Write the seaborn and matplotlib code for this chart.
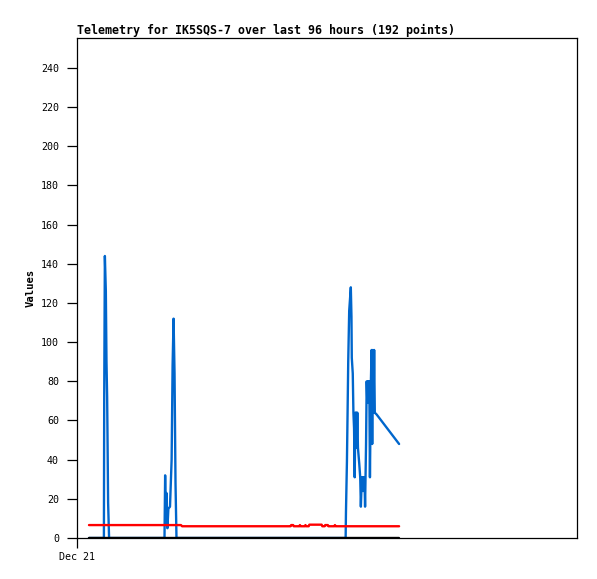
import matplotlib
matplotlib.use("Agg")
import matplotlib.pyplot as plt
import seaborn as sns
import pandas as pd

# ---- data (time in hours since start of window) ----
blue_t = [0, 4.6, 4.7, 4.9, 5.2, 5.4, 5.6, 5.7, 5.9, 6.2,
          23.3, 23.5, 23.7, 23.9, 24.2, 24.5, 25.0, 25.5, 25.8, 26.1, 26.4, 26.7, 27.0,
          79.2, 79.3, 79.6, 79.8, 80.0, 80.3, 80.8, 81.0, 81.1, 81.4, 81.6, 81.8, 82.0,
          82.2, 82.3, 82.5, 82.6, 82.8, 83.0, 83.4, 83.7, 83.9, 84.2, 84.3, 84.6, 84.8,
          85.0, 85.2, 85.5, 85.7, 85.9, 86.1, 86.3, 86.5, 86.7, 87.0, 87.2, 87.4, 87.6,
          87.8, 88.0, 88.2, 88.8, 95.7]
blue_v = [0, 0, 72, 144, 126, 90, 72, 55, 18, 0,
          0, 32, 8, 23, 5, 15, 16, 40, 88, 112, 84, 28, 0,
          0, 13, 39, 64, 90, 116, 128, 113, 92, 84, 64, 56, 31,
          64, 48, 64, 46, 64, 46, 38, 31, 16, 31, 24, 31, 24,
          31, 16, 48, 80, 69, 80, 69, 80, 31, 80, 96, 48, 96,
          64, 96, 64, 63, 48]

red_t = [0, 28.4, 28.7, 62.2, 62.4, 63.0, 63.2, 64.9, 65.1, 65.3, 66.6, 66.8, 67.0,
         67.8, 68.0, 71.8, 72.0, 72.7, 72.9, 73.7, 73.9, 75.7, 75.9, 76.1, 95.7]
red_v = [6.6, 6.6, 6.0, 6.0, 6.6, 6.6, 6.0, 6.0, 6.6, 6.0, 6.0, 6.6, 6.0,
         6.0, 6.8, 6.8, 6.0, 6.0, 6.6, 6.6, 6.0, 6.0, 6.6, 6.0, 6.0]

black_t = [0, 95.7]
black_v = [0, 0]

y_ticks = list(range(0, 241, 20))
x_tick_pos = [-3.7]
x_tick_labels = ["Dec 21"]
title = "Telemetry for IK5SQS-7 over last 96 hours (192 points)"

df = pd.concat([
    pd.DataFrame({"t": blue_t, "v": blue_v, "s": "blue"}),
    pd.DataFrame({"t": red_t, "v": red_v, "s": "red"}),
    pd.DataFrame({"t": black_t, "v": black_v, "s": "black"}),
])

sns.set_style("ticks")
plt.rcParams["font.family"] = ["DejaVu Sans Mono"]
plt.rcParams["text.color"] = "black"
plt.rcParams["axes.labelcolor"] = "black"
plt.rcParams["xtick.color"] = "black"
plt.rcParams["ytick.color"] = "black"

fig = plt.figure(figsize=(5.97, 5.79), dpi=100)
ax = fig.add_axes([77 / 597, 1 - 538 / 579, 500 / 597, 500 / 579])

sns.lineplot(data=df, x="t", y="v", hue="s", hue_order=["blue", "red", "black"],
             palette={"blue": "#0066cc", "red": "#ff0000", "black": "#000000"},
             estimator=None, sort=False, linewidth=1.7, legend=False, ax=ax)

ax.set_xlim(-3.7, 150.6)
ax.set_ylim(0, 255.3)
ax.set_yticks(y_ticks)
ax.set_yticklabels([str(v) for v in y_ticks], fontsize=7.2, color="black")
ax.set_xticks(x_tick_pos)
ax.set_xticklabels(x_tick_labels, fontsize=7.2, color="black")
ax.tick_params(axis="both", direction="out", length=7, width=0.9, color="black", pad=3)
ax.tick_params(axis="y", pad=6)
ax.set_xlabel("")
ax.set_ylabel("Values", fontsize=7.6, fontweight="bold", labelpad=4, color="black")
for sp in ax.spines.values():
    sp.set_visible(True)
    sp.set_linewidth(0.9)
    sp.set_color("black")
ax.text(0, 1.002, title, transform=ax.transAxes, ha="left", va="bottom",
        fontsize=8.35, fontweight="bold", color="black")

fig.savefig("out.png", dpi=100)
